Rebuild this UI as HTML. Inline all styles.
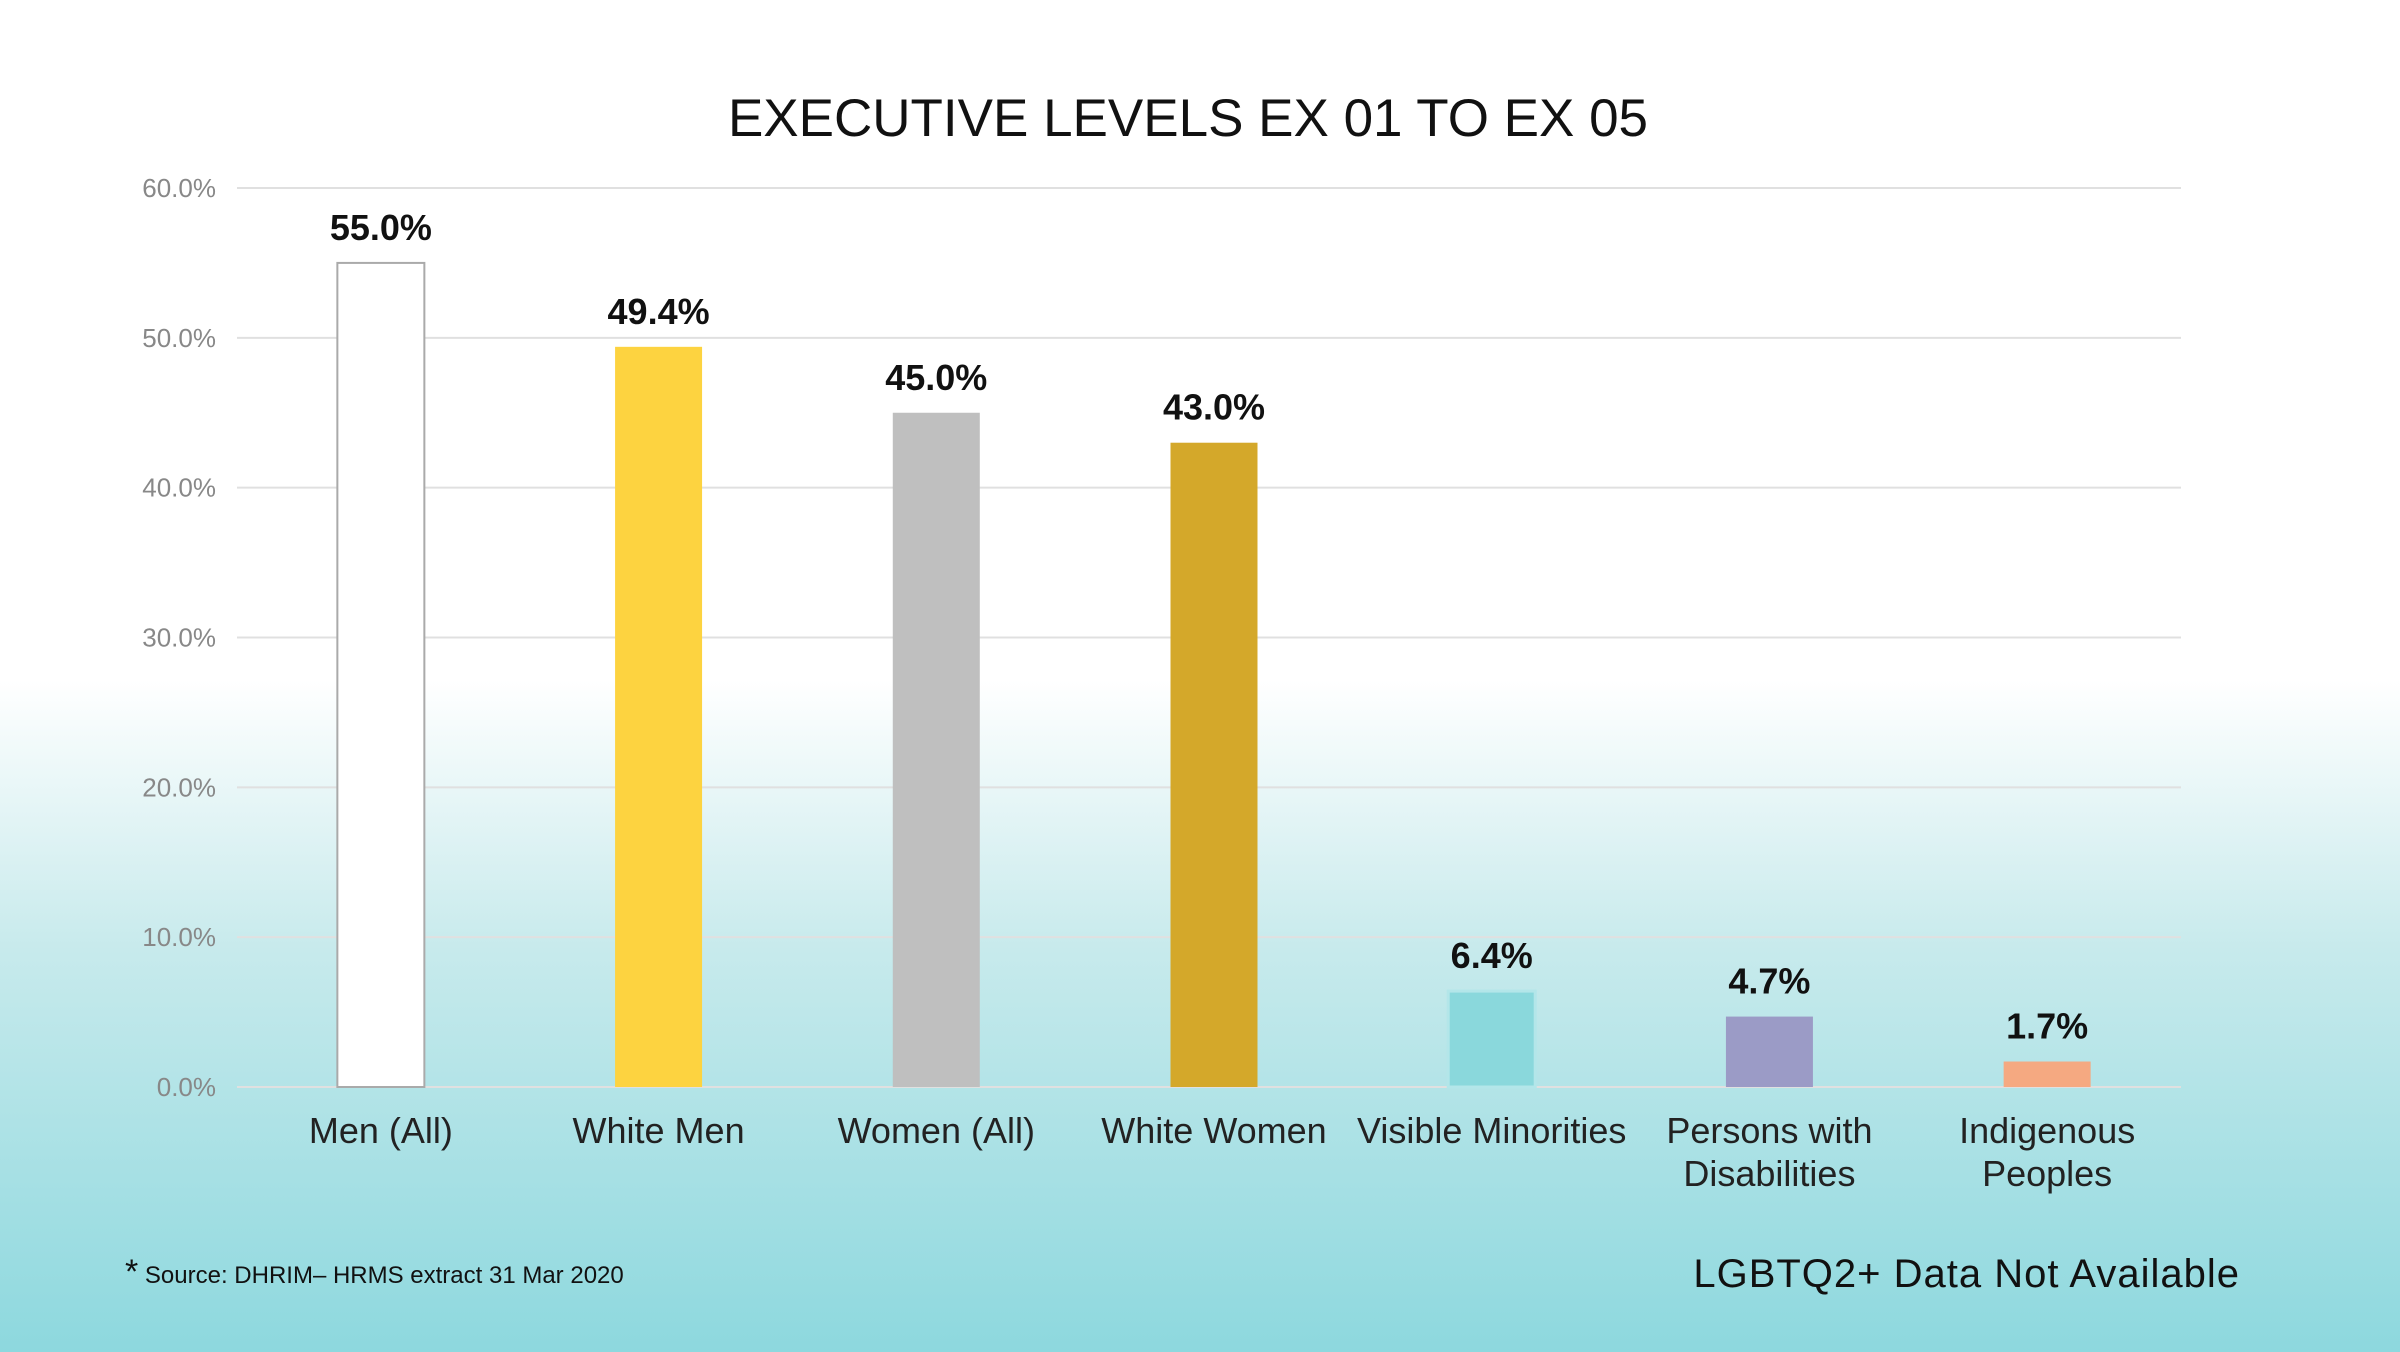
<!DOCTYPE html>
<html><head><meta charset="utf-8"><style>
html,body{margin:0;padding:0}
body{width:2400px;height:1352px;overflow:hidden;background:linear-gradient(to bottom,#ffffff 0px,#ffffff 680px,#c7eaec 950px,#8dd8de 1352px);font-family:"Liberation Sans",sans-serif}
</style></head><body>
<svg id="chart" width="2400" height="1352" xmlns="http://www.w3.org/2000/svg" style="position:absolute;left:0;top:0">
<text x="1188" y="136" text-anchor="middle" font-size="53" fill="#111">EXECUTIVE LEVELS EX 01 TO EX 05</text>
<g id="grid"></g><g id="bars"></g>
<text x="125" y="1283" font-size="24" fill="#111"><tspan font-size="34" dy="0">*</tspan> Source: DHRIM– HRMS extract 31 Mar 2020</text>
<text x="2240" y="1287" text-anchor="end" font-size="40" fill="#111" letter-spacing="1">LGBTQ2+ Data Not Available</text>
</svg>
<script>
const categories=[["Men (All)"],["White Men"],["Women (All)"],["White Women"],["Visible Minorities"],["Persons with","Disabilities"],["Indigenous","Peoples"]];
const values=[55.0,49.4,45.0,43.0,6.4,4.7,1.7];
const valueLabels=["55.0%","49.4%","45.0%","43.0%","6.4%","4.7%","1.7%"];
const ticks=[0,10,20,30,40,50,60];
const tickLabels=["0.0%","10.0%","20.0%","30.0%","40.0%","50.0%","60.0%"];
const colors=["#ffffff","#fdd340","#bfbfbf","#d4a82a","#8ad8dc","#9b9bc6","#f5a981"];
const NS="http://www.w3.org/2000/svg";
const y0=1087,yTop=188,x0=237,x1=2181;
function ys(v){return y0-(v/60)*(y0-yTop);}
function xs(i){return x0+(x1-x0)*(i+0.5)/categories.length+5;}
const grid=document.getElementById('grid'),bars=document.getElementById('bars');
function mk(t,a,p){const e=document.createElementNS(NS,t);for(const k in a)e.setAttribute(k,a[k]);p.appendChild(e);return e;}
ticks.forEach((t,i)=>{
 const l=mk('line',{x1:x0,x2:x1,y1:ys(t),y2:ys(t),stroke:'#e0e0e0','stroke-width':2},grid);
 
 
 const tx=mk('text',{x:216,y:ys(t)+9,'text-anchor':'end','font-size':26,fill:'#888'},grid);
 tx.textContent=tickLabels[i];
 
 
});
const bw=87;
values.forEach((v,i)=>{
 const cx=xs(i);
 const r=mk('rect',{x:cx-bw/2,y:ys(v),width:bw,height:y0-ys(v),fill:colors[i]},bars);
 if(i==0){r.setAttribute('stroke','#aaa');r.setAttribute('stroke-width','2');}
 if(i==4){r.setAttribute('stroke','#b3e6e9');r.setAttribute('stroke-width','3');}
 
 
 const vl=mk('text',{x:cx,y:ys(v)-23,'text-anchor':'middle','font-size':36,'font-weight':'bold',fill:'#111'},bars);
 vl.textContent=valueLabels[i];
 
 
 categories[i].forEach((line,j)=>{
  const c=mk('text',{x:cx,y:1143+j*43,'text-anchor':'middle','font-size':36,fill:'#222'},bars);
  c.textContent=line;
  
  
 });
});
</script>
</body></html>
